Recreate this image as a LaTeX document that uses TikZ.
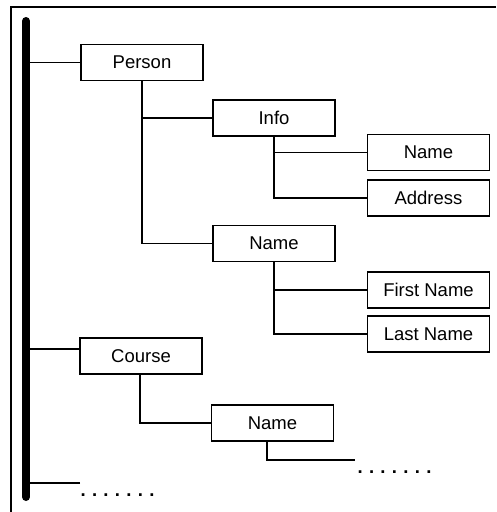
\documentclass[tikz,border=0pt]{standalone}
\usepackage{fontspec}
\setmainfont{Liberation Sans}
\newcommand\sevendots{.\hspace{6.3pt}.\hspace{6.3pt}.\hspace{6.3pt}.\hspace{6.3pt}.\hspace{6.3pt}.\hspace{6.3pt}.}
\begin{document}
\begin{tikzpicture}[x=1pt,y=-1pt,
  box/.style={draw,line width=1.3pt,minimum width=122pt,minimum height=36pt,inner sep=0pt,
              font=\fontsize{18.5}{22}\selectfont},
  link/.style={line width=1.2pt},
  dotrow/.style={inner sep=0pt,anchor=base west,font=\fontsize{18.5}{22}\selectfont\bfseries}]
\useasboundingbox (0,0) rectangle (496,512);
% open frame: left and top edges
\coordinate (fc) at (11,7);
\draw[line width=1.6pt] (11,512) -- (fc) -- (496,7);
% thick spine
\coordinate (spinetop) at (26,21);
\coordinate (spinebot) at (26,497);
\draw[line width=8pt,line cap=round] (spinetop) -- (spinebot);

% tree nodes
\node[box] (person)   at (142,62.5)   {Person};
\node[box] (info)     at (274,118)    {Info};
\node[box] (infoname) at (428.5,152.5){Name};
\node[box] (address)  at (428.5,198)  {Address};
\node[box] (pname)    at (274,243.5)  {Name};
\node[box] (first)    at (428.5,290)  {First Name};
\node[box] (last)     at (428.5,334)  {Last Name};
\node[box] (course)   at (141,356)    {Course};
\node[box] (cname)    at (272.5,423)  {Name};

% branches off the spine
\draw[link] (person.west) -- (person.west -| spinetop);
\draw[link] ([yshift=7pt]course.west) -- ([yshift=7pt]course.west -| spinetop);
\coordinate (more) at (80,483);
\draw[link] (more) -- (more -| spinetop);

% child links
\draw[link] (person.south) |- (info.west);
\draw[link] (person.south) |- (pname.west);
\draw[link] (info.south) |- (infoname.west);
\draw[link] (info.south) |- (address.west);
\draw[link] (pname.south) |- (first.west);
\draw[link] (pname.south) |- (last.west);
\draw[link] ([xshift=-1pt]course.south) |- (cname.west);
\coordinate (cnameend) at (355,460);
\draw[link] ([xshift=-5.5pt]cname.south) |- (cnameend);

% continuation marks
\node[dotrow] (moredots)  at (80.4,496.5) {\sevendots};
\node[dotrow] (cnamedots) at (357.4,473.5) {\sevendots};
\end{tikzpicture}
\end{document}
